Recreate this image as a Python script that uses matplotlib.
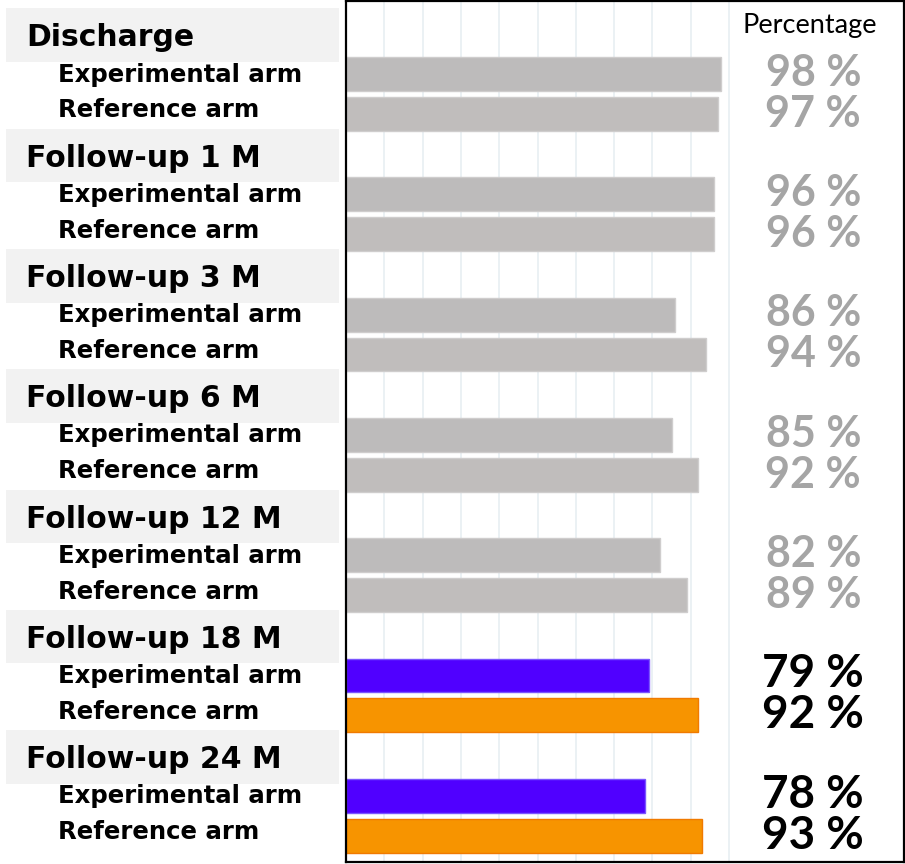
import matplotlib.pyplot as plt
from matplotlib.patches import Rectangle
from matplotlib.transforms import blended_transform_factory

groups = ["Discharge", "Follow-up 1 M", "Follow-up 3 M", "Follow-up 6 M",
          "Follow-up 12 M", "Follow-up 18 M", "Follow-up 24 M"]
arms = ["Experimental arm", "Reference arm"]
experimental = [98, 96, 86, 85, 82, 79, 78]
reference = [97, 96, 94, 92, 89, 92, 93]
highlight = [False, False, False, False, False, True, True]

W, H = 905, 864
fig = plt.figure(figsize=(W / 100, H / 100), dpi=100)
ax = fig.add_axes([346 / W, 2 / H, (904 - 346) / W, (H - 3) / H])

px = 100 / (729 - 346)  # data units per pixel in x
xmax = (904 - 346) * px
ax.set_xlim(0, xmax)
ax.set_ylim(6.55, -0.606)

for x in range(10, 101, 10):
    ax.axvline(x, color="#e8eff2", lw=1.2, zorder=0)

gap = 0.332
bh = 0.282
for i in range(len(groups)):
    if highlight[i]:
        c_exp, e_exp = "#5000ff", "#7a55ff"
        c_ref, e_ref = "#f79400", "#f07a00"
        tcol, fs = "black", 33
    else:
        c_exp, e_exp = "#bdbbbb", "#cfcdcd"
        c_ref, e_ref = "#c0bdbc", "#cfcdcd"
        tcol, fs = "#a5a5a5", 31
    ax.text(122.0, i - 0.01, f"{experimental[i]} %", ha="center", va="center",
            fontsize=fs, fontweight="bold", color=tcol, family="Lato")
    ax.text(122.0, i + gap, f"{reference[i]} %", ha="center", va="center",
            fontsize=fs, fontweight="bold", color=tcol, family="Lato")
    ax.barh(i, experimental[i], height=bh, color=c_exp, edgecolor=e_exp, lw=1, zorder=2)
    ax.barh(i + gap, reference[i], height=bh, color=c_ref, edgecolor=e_ref, lw=1, zorder=2)

ax.text(121.0, -0.40, "Percentage", ha="center", va="center", fontsize=19.5,
        family="Lato", color="black")

# left-hand labels, outside the axes
tr = blended_transform_factory(fig.transFigure, ax.transData)
for i, g in enumerate(groups):
    ax.add_patch(Rectangle((6 / W, i - 0.545), (339 - 6) / W, 0.445,
                           transform=tr, clip_on=False, facecolor="#f2f2f2",
                           edgecolor="none", zorder=0))
    ax.text(26 / W, i - 0.30, g, transform=tr, ha="left", va="center",
            fontsize=21.5, fontweight="bold", family="DejaVu Sans")
    ax.text(58 / W, i + 0.005, arms[0], transform=tr, ha="left", va="center",
            fontsize=17.6, fontweight="bold", family="DejaVu Sans")
    ax.text(58 / W, i + gap - 0.03, arms[1], transform=tr, ha="left", va="center",
            fontsize=17.6, fontweight="bold", family="DejaVu Sans")

ax.set_xticks([])
ax.set_yticks([])
for s in ax.spines.values():
    s.set_linewidth(1.6)
    s.set_color("black")

fig.savefig("out.png", dpi=100)
